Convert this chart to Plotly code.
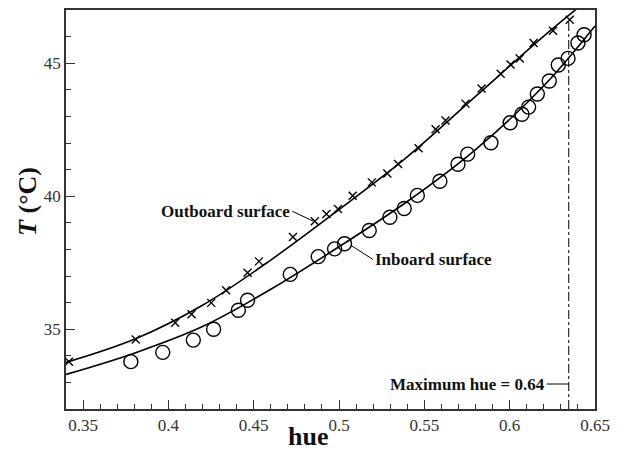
import plotly.graph_objects as go

# ---- data ----
outboard_hue = [0.3417, 0.3809, 0.4040, 0.4136, 0.4251, 0.4338, 0.4464, 0.4531, 0.4730,
                0.4858, 0.4926, 0.4994, 0.5080, 0.5192, 0.5283, 0.5346, 0.5466, 0.5566,
                0.5624, 0.5741, 0.5835, 0.5947, 0.6005, 0.6059, 0.6140, 0.6254, 0.6352]
outboard_T = [33.78, 34.61, 35.24, 35.56, 35.99, 36.46, 37.12, 37.55, 38.47,
              39.06, 39.33, 39.52, 40.02, 40.52, 40.85, 41.21, 41.80, 42.52,
              42.85, 43.48, 44.05, 44.60, 44.95, 45.18, 45.76, 46.22, 46.63]

inboard_hue = [0.3780, 0.3967, 0.4146, 0.4265, 0.4410, 0.4464, 0.4714, 0.4878, 0.4974,
               0.5032, 0.5177, 0.5298, 0.5382, 0.5459, 0.5591, 0.5697, 0.5754, 0.5890,
               0.6003, 0.6072, 0.6111, 0.6162, 0.6232, 0.6285, 0.6342, 0.6400, 0.6436]
inboard_T = [33.78, 34.13, 34.59, 35.00, 35.71, 36.09, 37.06, 37.73, 38.02,
             38.21, 38.71, 39.21, 39.54, 40.03, 40.56, 41.20, 41.58, 42.01,
             42.76, 43.08, 43.35, 43.84, 44.33, 44.93, 45.18, 45.76, 46.07]

# fitted curves
fit_hue = [0.34, 0.38, 0.42, 0.46, 0.50, 0.54, 0.58, 0.62, 0.65]
outboard_fit_T = [33.75, 34.62, 35.90, 37.60, 39.50, 41.48, 43.75, 46.02, 47.60]
inboard_fit_T = [33.30, 34.10, 35.10, 36.50, 38.10, 39.80, 41.75, 44.15, 46.40]

max_hue_x = 0.6346
max_hue_top = 46.63

x_tick_vals = [0.35, 0.4, 0.45, 0.5, 0.55, 0.6, 0.65]
x_tick_text = ["0.35", "0.4", "0.45", "0.5", "0.55", "0.6", "0.65"]
y_tick_vals = [35, 40, 45]
y_tick_text = ["35", "40", "45"]

SERIF = "Liberation Serif, Times New Roman, serif"

fig = go.Figure()
fig.add_trace(go.Scatter(x=fit_hue, y=outboard_fit_T, mode="lines",
                         line=dict(color="black", width=1.6, shape="spline"),
                         showlegend=False, cliponaxis=True))
fig.add_trace(go.Scatter(x=fit_hue, y=inboard_fit_T, mode="lines",
                         line=dict(color="black", width=1.6, shape="spline"),
                         showlegend=False, cliponaxis=True))
fig.add_trace(go.Scatter(x=outboard_hue, y=outboard_T, mode="markers",
                         marker=dict(symbol="x-thin-open", size=8, color="black",
                                     line=dict(color="black", width=1.4)),
                         showlegend=False))
fig.add_trace(go.Scatter(x=inboard_hue, y=inboard_T, mode="markers",
                         marker=dict(symbol="circle-open", size=14, color="black",
                                     line=dict(color="black", width=1.4)),
                         showlegend=False))

# vertical dash-dot line at maximum hue
fig.add_shape(type="line", xref="x", yref="y", x0=max_hue_x, x1=max_hue_x,
              y0=32, y1=max_hue_top,
              line=dict(color="black", width=1, dash="dashdot"))

ann_font = dict(family=SERIF, size=17, color="#111")
fig.add_annotation(x=0.4849, y=39.06, xref="x", yref="y",
                   text="<b>Outboard surface</b>", showarrow=True, arrowhead=0,
                   arrowwidth=1, arrowcolor="black", ax=-21, ay=-10,
                   xanchor="right", yanchor="middle", font=ann_font)
fig.add_annotation(x=0.507, y=38.15, xref="x", yref="y",
                   text="<b>Inboard surface</b>", showarrow=True, arrowhead=0,
                   arrowwidth=1, arrowcolor="black", ax=22, ay=14,
                   xanchor="left", yanchor="middle", font=ann_font)
fig.add_annotation(x=max_hue_x, y=32.94, xref="x", yref="y",
                   text="<b>Maximum hue = 0.64</b>", showarrow=True, arrowhead=0,
                   arrowwidth=1, arrowcolor="black", ax=-22, ay=0,
                   xanchor="right", yanchor="middle", font=ann_font)

# axis titles
fig.add_annotation(x=-0.073, y=0.52, xref="paper", yref="paper",
                   text="<b><i>T</i> (°C)</b>", showarrow=False, textangle=-90,
                   font=dict(family=SERIF, size=26, color="#111"),
                   xanchor="center", yanchor="middle")
fig.add_annotation(x=0.457, y=-0.108, xref="paper", yref="paper",
                   text="<b>hue</b>", showarrow=False, borderpad=0,
                   font=dict(family=SERIF, size=26, color="#111"),
                   xanchor="center", yanchor="bottom")

axis_common = dict(showgrid=False, zeroline=False, showline=True, linecolor="#333",
                   linewidth=1.5, mirror=True, ticks="inside", ticklen=9,
                   tickwidth=1.3, tickcolor="#333",
                   tickfont=dict(family=SERIF, size=17, color="#333"))

fig.update_xaxes(range=[0.34, 0.65], tickvals=x_tick_vals, ticktext=x_tick_text,
                 minor=dict(dtick=0.01, tick0=0.34, ticks="inside", ticklen=5,
                            tickwidth=1.1, tickcolor="#333"),
                 **axis_common)
fig.update_yaxes(range=[32, 47], tickvals=y_tick_vals, ticktext=y_tick_text,
                 minor=dict(dtick=1, tick0=32, ticks="inside", ticklen=5,
                            tickwidth=1.1, tickcolor="#333"),
                 **axis_common)

fig.update_layout(width=618, height=455, margin=dict(l=66, r=16, t=8, b=46),
                  paper_bgcolor="white", plot_bgcolor="white",
                  font=dict(family=SERIF))

fig.write_html("out.html")
